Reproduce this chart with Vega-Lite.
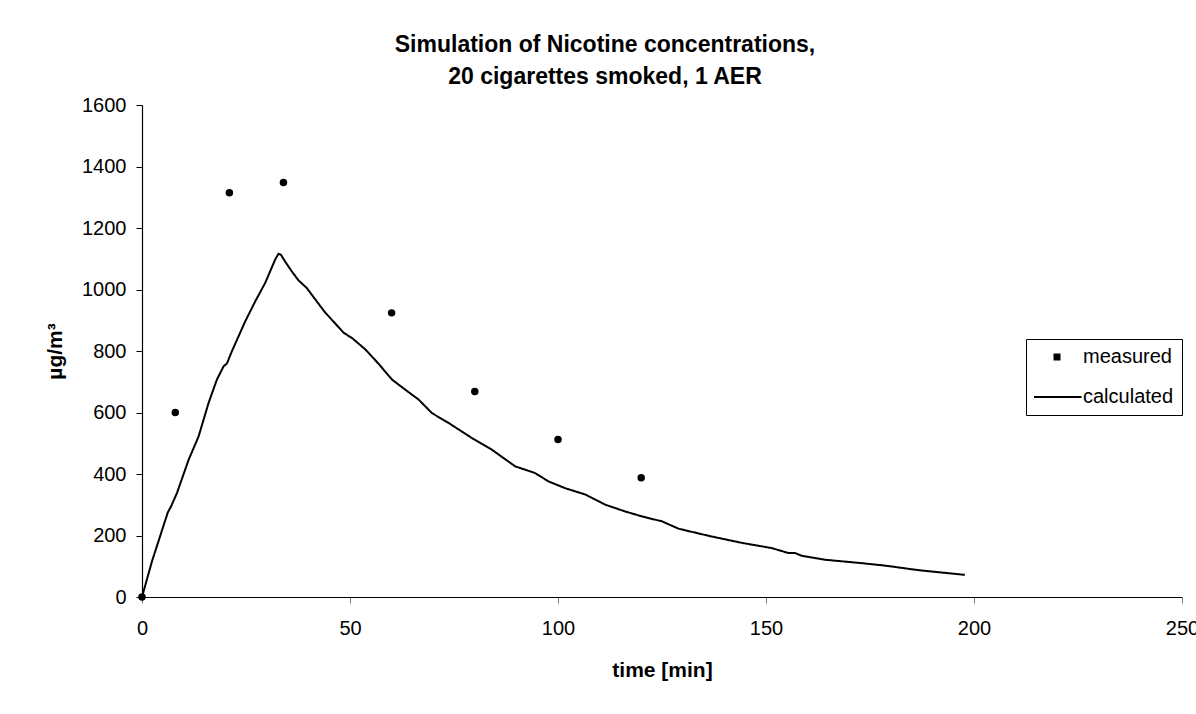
{
  "$schema": "https://vega.github.io/schema/vega-lite/v6.json",
  "width": 1040,
  "height": 492,
  "autosize": {"type": "none"},
  "padding": {"left": 142, "top": 105, "right": 14, "bottom": 117},
  "background": "white",
  "config": {
    "font": "Liberation Sans",
    "view": {"stroke": null},
    "axis": {"grid": false, "domainColor": "black", "domainWidth": 1.2, "labelColor": "black", "titleColor": "black", "labelFont": "Liberation Sans", "titleFont": "Liberation Sans"}
  },
  "title": {
    "text": ["Simulation of Nicotine concentrations,", "20 cigarettes smoked, 1 AER"],
    "anchor": "middle",
    "fontSize": 23,
    "fontWeight": "bold",
    "font": "Liberation Sans",
    "color": "black",
    "lineHeight": 32,
    "dx": -57,
    "offset": 6
  },
  "datasets": {
    "measured": [
      {"time": 0, "value": 0},
      {"time": 8, "value": 600},
      {"time": 21, "value": 1315},
      {"time": 34, "value": 1348},
      {"time": 60, "value": 924},
      {"time": 80, "value": 668},
      {"time": 100, "value": 512},
      {"time": 120, "value": 388}
    ],
    "calculated": [
      {"time": 0, "value": 0, "series": "calculated"}, {"time": 2.4, "value": 116, "series": "calculated"}, {"time": 6.2, "value": 275, "series": "calculated"}, {"time": 7, "value": 295, "series": "calculated"},
      {"time": 8.4, "value": 338, "series": "calculated"}, {"time": 11.2, "value": 446, "series": "calculated"}, {"time": 13.6, "value": 522, "series": "calculated"}, {"time": 16, "value": 631, "series": "calculated"},
      {"time": 18, "value": 707, "series": "calculated"}, {"time": 19.6, "value": 750, "series": "calculated"}, {"time": 20.4, "value": 759, "series": "calculated"}, {"time": 21.6, "value": 799, "series": "calculated"},
      {"time": 24.8, "value": 896, "series": "calculated"}, {"time": 27.2, "value": 961, "series": "calculated"}, {"time": 29.6, "value": 1021, "series": "calculated"}, {"time": 32, "value": 1097, "series": "calculated"},
      {"time": 32.8, "value": 1116, "series": "calculated"}, {"time": 33.4, "value": 1113, "series": "calculated"}, {"time": 34.4, "value": 1091, "series": "calculated"}, {"time": 36, "value": 1059, "series": "calculated"},
      {"time": 37.6, "value": 1030, "series": "calculated"}, {"time": 39.6, "value": 1005, "series": "calculated"}, {"time": 41.7, "value": 967, "series": "calculated"}, {"time": 44.1, "value": 924, "series": "calculated"},
      {"time": 45.6, "value": 902, "series": "calculated"}, {"time": 48.5, "value": 859, "series": "calculated"}, {"time": 50.5, "value": 842, "series": "calculated"}, {"time": 53.7, "value": 805, "series": "calculated"},
      {"time": 56.9, "value": 758, "series": "calculated"}, {"time": 60.1, "value": 707, "series": "calculated"}, {"time": 63.3, "value": 674, "series": "calculated"}, {"time": 66.5, "value": 642, "series": "calculated"},
      {"time": 69.7, "value": 598, "series": "calculated"}, {"time": 73.7, "value": 566, "series": "calculated"}, {"time": 79.3, "value": 517, "series": "calculated"}, {"time": 84.1, "value": 479, "series": "calculated"},
      {"time": 89.7, "value": 425, "series": "calculated"}, {"time": 94.5, "value": 403, "series": "calculated"}, {"time": 97.7, "value": 376, "series": "calculated"}, {"time": 101.7, "value": 354, "series": "calculated"},
      {"time": 106.6, "value": 333, "series": "calculated"}, {"time": 111.4, "value": 300, "series": "calculated"}, {"time": 116.2, "value": 278, "series": "calculated"}, {"time": 120.2, "value": 262, "series": "calculated"},
      {"time": 125, "value": 246, "series": "calculated"}, {"time": 129, "value": 222, "series": "calculated"}, {"time": 136.2, "value": 199, "series": "calculated"}, {"time": 144.2, "value": 176, "series": "calculated"},
      {"time": 151.4, "value": 159, "series": "calculated"}, {"time": 155.4, "value": 143, "series": "calculated"}, {"time": 157, "value": 143, "series": "calculated"}, {"time": 158.6, "value": 134, "series": "calculated"},
      {"time": 164.3, "value": 121, "series": "calculated"}, {"time": 172.3, "value": 111, "series": "calculated"}, {"time": 178.7, "value": 102, "series": "calculated"}, {"time": 186.8, "value": 87, "series": "calculated"},
      {"time": 197.8, "value": 72, "series": "calculated"}
    ]
  },
  "encoding": {
    "x": {
      "field": "time", "type": "quantitative",
      "scale": {"domain": [0, 250], "nice": false, "zero": true},
      "axis": {"title": "time [min]", "values": [0, 50, 100, 150, 200, 250], "format": "d", "labelFontSize": 20, "titleFontSize": 21, "titleFontWeight": "bold", "tickColor": "#777", "tickSize": 6, "labelPadding": 15, "titlePadding": 21, "labelFlush": false}
    },
    "y": {
      "field": "value", "type": "quantitative",
      "scale": {"domain": [0, 1600], "nice": false},
      "axis": {"title": "µg/m³", "values": [0, 200, 400, 600, 800, 1000, 1200, 1400, 1600], "format": "d", "labelFontSize": 20, "titleFontSize": 21, "titleFontWeight": "bold", "tickColor": "black", "tickSize": 6, "labelPadding": 10, "titlePadding": 16}
    }
  },
  "layer": [
    {
      "data": {"name": "calculated"},
      "mark": {"type": "line", "clip": false},
      "encoding": {
        "color": {
          "field": "series", "type": "nominal",
          "scale": {"domain": ["measured", "calculated"], "range": ["black", "black"]},
          "legend": {
            "title": null,
            "orient": "none",
            "legendX": 884,
            "legendY": 234,
            "padding": 8,
            "fillColor": "white",
            "strokeColor": "black",
            "cornerRadius": 0,
            "symbolType": "stroke",
            "symbolSize": 2400,
            "symbolOffset": -5,
            "clipHeight": 20,
            "labelOffset": -2,
            "labelFontSize": 20,
            "labelColor": "black",
            "labelFont": "Liberation Sans",
            "rowPadding": 20
          }
        },
        "strokeDash": {
          "field": "series", "type": "nominal",
          "scale": {"domain": ["measured", "calculated"], "range": [[0, 21, 7, 100], [1, 0]]},
          "legend": {
            "title": null,
            "orient": "none",
            "legendX": 884,
            "legendY": 234,
            "padding": 8,
            "fillColor": "white",
            "strokeColor": "black",
            "cornerRadius": 0,
            "symbolType": "stroke",
            "symbolSize": 2400,
            "symbolOffset": -5,
            "clipHeight": 20,
            "labelOffset": -2,
            "labelFontSize": 20,
            "labelColor": "black",
            "labelFont": "Liberation Sans",
            "rowPadding": 20
          }
        },
        "strokeWidth": {
          "field": "series", "type": "ordinal",
          "scale": {"domain": ["measured", "calculated"], "range": [7, 2]},
          "legend": {
            "title": null,
            "orient": "none",
            "legendX": 884,
            "legendY": 234,
            "padding": 8,
            "fillColor": "white",
            "strokeColor": "black",
            "cornerRadius": 0,
            "symbolType": "stroke",
            "symbolSize": 2400,
            "symbolOffset": -5,
            "clipHeight": 20,
            "labelOffset": -2,
            "labelFontSize": 20,
            "labelColor": "black",
            "labelFont": "Liberation Sans",
            "rowPadding": 20
          }
        }
      }
    },
    {
      "data": {"name": "measured"},
      "mark": {"type": "point", "filled": true, "color": "black", "size": 56, "opacity": 1, "clip": false}
    }
  ]
}
